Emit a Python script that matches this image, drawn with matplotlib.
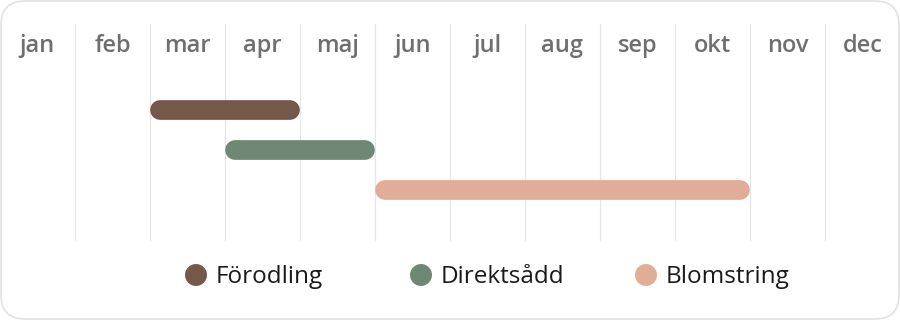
import matplotlib
matplotlib.use("Agg")
import matplotlib.pyplot as plt
from matplotlib.patches import FancyBboxPatch

months = ["jan", "feb", "mar", "apr", "maj", "jun", "jul", "aug", "sep", "okt", "nov", "dec"]
phases = ["Förodling", "Direktsådd", "Blomstring"]
starts = [2, 3, 5]   # month index where each phase starts
ends = [4, 5, 10]    # month index where each phase ends
colors = ["#74584a", "#6f8775", "#e0ae98"]

plt.rcParams["font.family"] = ["Open Sans", "DejaVu Sans"]

fig = plt.figure(figsize=(9, 3.2), dpi=100)

# rounded frame, drawn in pixel coords
bg = fig.add_axes([0, 0, 1, 1])
bg.set_xlim(0, 900)
bg.set_ylim(320, 0)
bg.axis("off")
bg.add_patch(FancyBboxPatch((1, 1), 898, 318, boxstyle="round,pad=0,rounding_size=24",
                            facecolor="white", edgecolor="#e2e2e2", linewidth=1.2))

ax = fig.add_axes([0, 0, 1, 1])
ax.patch.set_alpha(0)
ax.set_xlim(0, 12)
ax.set_ylim(5.25, -2.75)   # rows 0,1,2 sit at 110/150/190 px
ax.axis("off")

# month separators
for m in range(1, 12):
    ax.plot([m, m], [-2.15, 3.25], color="#e6e6e6", linewidth=0.9, zorder=1)

for i, m in enumerate(months):
    ax.text(i + 0.5, -1.46, m, ha="center", va="baseline", fontsize=17,
            fontweight="semibold", color="#6d706d")

# bars with round caps
r = 9.75 / 75
for i in range(len(phases)):
    ax.plot([starts[i] + r, ends[i] - r], [i, i], color=colors[i], linewidth=14.2,
            solid_capstyle="round", zorder=3)

# legend
for i, p in enumerate(phases):
    x = (196 + 225 * i) / 75
    ax.scatter([x], [4.125], s=250, color=colors[i], edgecolors="none", zorder=3)
    ax.text(x + 19.5 / 75, 4.33, p, ha="left", va="baseline", fontsize=17.5,
            color="#1a1a1a")

fig.savefig("out.png", dpi=100)
